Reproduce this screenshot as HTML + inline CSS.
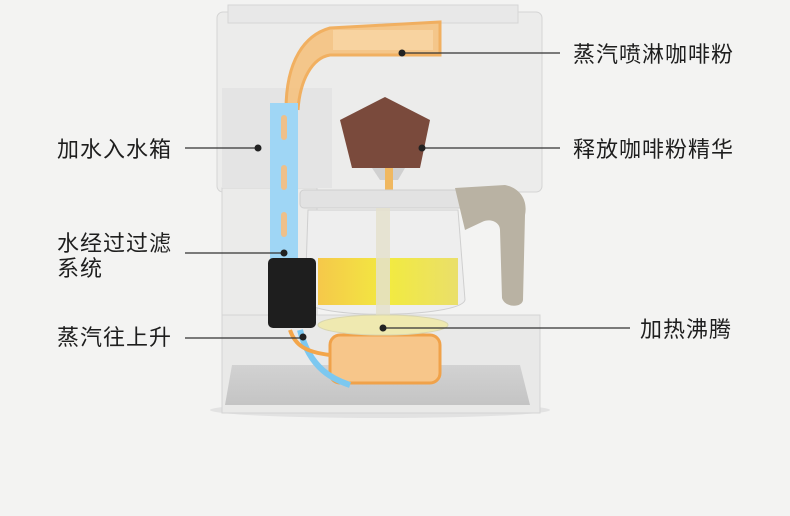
<!DOCTYPE html>
<html><head><meta charset="utf-8"><style>
html,body{margin:0;padding:0;background:#f3f3f2;}
body{width:790px;height:516px;position:relative;overflow:hidden;font-family:"Liberation Sans","Noto Sans CJK SC",sans-serif;}
.t{position:absolute;font-size:22px;letter-spacing:1px;color:#1e1e1e;line-height:25px;}
</style></head><body>
<svg width="790" height="516" style="position:absolute;left:0;top:0">
<defs>
<linearGradient id="base" x1="0" y1="0" x2="0" y2="1"><stop offset="0" stop-color="#d2d2d2"/><stop offset="1" stop-color="#c4c4c4"/></linearGradient>
<linearGradient id="yel" x1="0" y1="0" x2="1" y2="0"><stop offset="0" stop-color="#f5c84a"/><stop offset="0.5" stop-color="#f2ea40"/><stop offset="1" stop-color="#eadf6a"/></linearGradient>
</defs>
<ellipse cx="380" cy="410" rx="170" ry="8" fill="#e2e2e2"/>
<rect x="217" y="12" width="325" height="180" rx="6" fill="#ececeb" stroke="#d4d4d4"/>
<rect x="228" y="5" width="290" height="18" fill="#e8e8e8" stroke="#d6d6d6"/>
<rect x="222" y="188" width="95" height="225" fill="#ebebea" stroke="#d4d4d4"/>
<rect x="222" y="315" width="318" height="98" fill="#e9e9e8" stroke="#d4d4d4"/>
<polygon points="232,365 520,365 530,405 225,405" fill="url(#base)"/>
<rect x="222" y="88" width="110" height="100" fill="#e4e4e4"/>
<path d="M286,110 C286,60 305,35 330,28 L440,22 L440,55 L330,55 C312,58 300,80 298,110" fill="#f6c07a" stroke="#f3a64a" stroke-width="3" opacity="0.85"/>
<rect x="333" y="30" width="100" height="20" fill="#f8d3a0"/>
<polygon points="385,97 430,120 420,168 352,168 340,120" fill="#7a4a3c"/>
<polygon points="372,168 405,168 398,180 380,180" fill="#d0d0d0"/>
<rect x="385" y="168" width="8" height="24" fill="#f0b860"/>
<rect x="300" y="190" width="165" height="18" rx="4" fill="#e2e2e2" stroke="#cfcfcf"/>
<path d="M308,210 L458,210 L465,300 C460,318 310,320 305,300 Z" fill="#eeeeee" stroke="#cfcfcf"/>
<rect x="318" y="258" width="140" height="47" fill="url(#yel)"/>
<rect x="376" y="208" width="14" height="110" fill="#e4e0cc" opacity="0.85"/>
<path d="M455,188 L505,185 C520,188 528,200 525,215 L523,300 C522,308 505,308 502,298 L500,230 C500,222 490,218 482,222 L465,230 Z" fill="#b9b2a3"/>
<rect x="330" y="335" width="110" height="48" rx="10" fill="#f7c68a" stroke="#f0a24a" stroke-width="3"/>
<ellipse cx="383" cy="325" rx="65" ry="10" fill="#efe9b0" stroke="#d9d6b0"/>
<path d="M300,330 C310,370 335,380 350,385" stroke="#7cc8f0" stroke-width="6" fill="none"/>
<path d="M290,330 C295,345 305,352 330,355" stroke="#f3a64a" stroke-width="4" fill="none"/>
<rect x="270" y="103" width="28" height="160" fill="#9fd6f5"/>
<rect x="281" y="115" width="6" height="25" rx="3" fill="#eec08a"/>
<rect x="281" y="165" width="6" height="25" rx="3" fill="#eec08a"/>
<rect x="281" y="212" width="6" height="25" rx="3" fill="#eec08a"/>
<rect x="268" y="258" width="48" height="70" rx="5" fill="#1e1e1e"/>
<g stroke="#333" stroke-width="1.2">
<line x1="185" y1="148" x2="258" y2="148"/>
<line x1="185" y1="253" x2="284" y2="253"/>
<line x1="185" y1="338" x2="303" y2="338"/>
<line x1="402" y1="53" x2="560" y2="53"/>
<line x1="422" y1="148" x2="560" y2="148"/>
<line x1="383" y1="328" x2="630" y2="328"/>
</g>
<g fill="#222"><circle cx="258" cy="148" r="3.5"/><circle cx="284" cy="253" r="3.5"/><circle cx="303" cy="337" r="3.5"/><circle cx="402" cy="53" r="3.5"/><circle cx="422" cy="148" r="3.5"/><circle cx="383" cy="328" r="3.5"/></g>
</svg>
<div class="t" style="left:57px;top:137px">加水入水箱</div>
<div class="t" style="left:57px;top:231px">水经过过滤<br>系统</div>
<div class="t" style="left:57px;top:325px">蒸汽往上升</div>
<div class="t" style="left:573px;top:42px">蒸汽喷淋咖啡粉</div>
<div class="t" style="left:573px;top:137px">释放咖啡粉精华</div>
<div class="t" style="left:640px;top:317px">加热沸腾</div>
</body></html>
